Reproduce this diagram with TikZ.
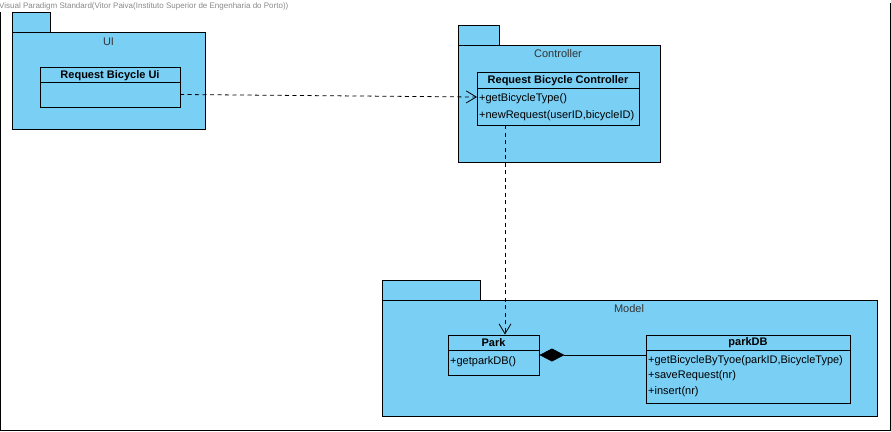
\documentclass[tikz,border=0pt]{standalone}
\usepackage{fontspec}
\setmainfont{Liberation Sans}
\usetikzlibrary{arrows.meta}
\definecolor{pkgblue}{HTML}{7ACFF5}
\definecolor{lbl}{HTML}{333333}
\definecolor{wm}{HTML}{8A8A8A}
\tikzset{
  pkg/.style={draw=black, fill=pkgblue, line width=0.9pt},
  cls/.style={draw=black, fill=pkgblue, line width=0.9pt, inner sep=0pt},
  pkglabel/.style={font=\fontsize{11}{13}\selectfont, text=lbl, inner sep=0pt},
  clstitle/.style={font=\fontsize{11}{13}\selectfont\bfseries, inner sep=0pt},
  meth/.style={font=\fontsize{11}{13}\selectfont, anchor=west, inner sep=0pt},
  dep/.style={draw=black, line width=0.8pt, dash pattern=on 4pt off 3.5pt, -{Straight Barb[length=10pt,width=12pt]}},
  comp/.style={draw=black, line width=0.8pt, -{Diamond[length=25pt,width=13pt]}}
}
\begin{document}
\begin{tikzpicture}[x=1pt,y=-1pt]
\useasboundingbox (0,0) rectangle (891,431);
\fill[white] (0,0) rectangle (891,431);
% frame
\draw[line width=1pt] (0.5,12) -- (0.5,430.5) -- (890.5,430.5) -- (890.5,3);
\node[anchor=base west, font=\fontsize{8}{9}\selectfont, text=wm, inner sep=0pt] (wmark) at (-1,9) {Visual Paradigm Standard(Vitor Paiva(Instituto Superior de Engenharia do Porto))};

% UI package
\draw[pkg] (12,12) rectangle (50,32);
\draw[pkg] (12,32) rectangle (205,129);
\node[pkglabel] (uilbl) at (108.5,41.5) {UI};
\node[cls, minimum width=140pt, minimum height=40pt] (ui) at (110,87) {};
\draw[line width=0.9pt] (40,82) -- (180,82);
\node[clstitle] (uititle) at (110,75.5) {Request Bicycle Ui};

% Controller package
\draw[pkg] (458,25) rectangle (499,45);
\draw[pkg] (458,45) rectangle (660,162);
\node[pkglabel] (ctllbl) at (558,53.5) {Controller};
\node[cls, minimum width=162pt, minimum height=53pt] (ctl) at (558,98.5) {};
\draw[line width=0.9pt] (477,88) -- (639,88);
\node[clstitle] (ctltitle) at (558,80.5) {Request Bicycle Controller};
\node[meth] (m1) at (479,98.5) {+getBicycleType()};
\node[meth] (m2) at (479,115.5) {+newRequest(userID,bicycleID)};

% Model package
\draw[pkg] (382,280) rectangle (480,300);
\draw[pkg] (382,300) rectangle (877,416);
\node[pkglabel] (mdllbl) at (629,308.5) {Model};
\node[cls, minimum width=91pt, minimum height=40pt] (park) at (493.5,355) {};
\draw[line width=0.9pt] (448,350) -- (539,350);
\node[clstitle] (parktitle) at (493.5,342.5) {Park};
\node[meth] (pm1) at (450,361.5) {+getparkDB()};
\node[cls, minimum width=204pt, minimum height=68pt] (pdb) at (748,369) {};
\draw[line width=0.9pt] (646,350) -- (850,350);
\node[clstitle] (pdbtitle) at (748,342.5) {parkDB};
\node[meth] (dm1) at (648,360.5) {+getBicycleByTyoe(parkID,BicycleType)};
\node[meth] (dm2) at (648,376) {+saveRequest(nr)};
\node[meth] (dm3) at (648,391.5) {+insert(nr)};

% connectors
\coordinate (uiout) at (180,94.5);
\coordinate (ctlin) at (477,97);
\draw[dep] (uiout) -- (ctlin);
\draw[dep] (ctl.south -| 505,0) -- (park.north -| 505,0);
\draw[comp] (pdb.west |- 0,355) -- (park.east);
\end{tikzpicture}
\end{document}
